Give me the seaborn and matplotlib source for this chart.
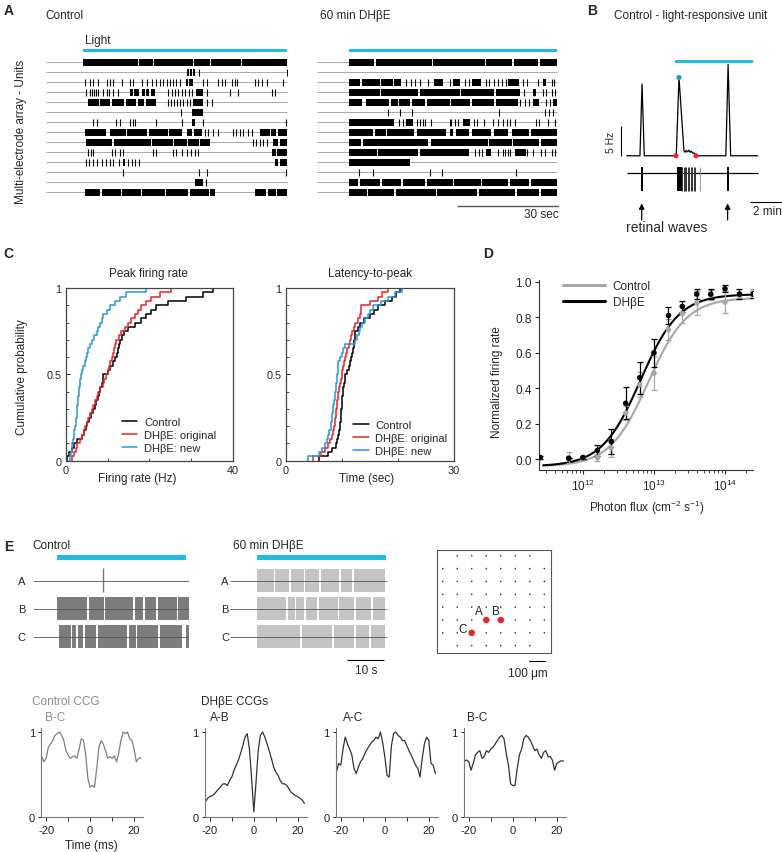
import numpy as np
import matplotlib
matplotlib.use('Agg')
import matplotlib.pyplot as plt
import seaborn as sns
from matplotlib.lines import Line2D
from matplotlib.ticker import FixedLocator, NullFormatter, LogLocator

sns.set_style('ticks')
plt.rcParams['font.family'] = ['Liberation Sans', 'DejaVu Sans']
plt.rcParams['mathtext.fontset'] = 'custom'
plt.rcParams['mathtext.rm'] = 'Liberation Sans'
plt.rcParams['mathtext.default'] = 'regular'
plt.rcParams['axes.linewidth'] = 0.8
plt.rcParams['axes.edgecolor'] = '#333333'

CYAN = '#1ebde3'
RED = '#e8252b'
BLUE = '#2b97d4'
GRAY = '#a6a6a6'
FS = 8.5
TFS = 7.8

# ---------------- DATA ----------------
# Panel A: rasters (seconds; light on 0-60 s). bursts = dense firing, spikes = single spikes
ctrl_bursts = [
    [(0, 16), (16.3, 20.5), (20.8, 32.3), (32.6, 37.5), (37.8, 46.6), (46.9, 60)],
    [(30.5, 31.2), (31.6, 32.2), (32.5, 32.9)],
    [(30.2, 31.0), (31.3, 32.4)],
    [(13.8, 14.8), (15.1, 16.5), (17.2, 18.2), (18.5, 19.5), (20.0, 21.1), (33.2, 35.2)],
    [(1.5, 4.5), (5.0, 8.0), (8.4, 12.0), (12.5, 15.5), (16.0, 18.0), (18.4, 21.6), (32.4, 35.2)],
    [(32.0, 35.2)],
    [(32.2, 32.9)],
    [(0.5, 6.6), (7.8, 12.5), (12.8, 18.8), (19.5, 25.0), (25.4, 29.0), (30.5, 32.0), (32.7, 34.9),
     (52.1, 55.0), (55.5, 57.0), (57.4, 60)],
    [(0.8, 8.5), (9.0, 20.0), (20.4, 26.5), (26.8, 30.5), (31.0, 34.0), (34.4, 37.4), (56.0, 57.5), (58.0, 60)],
    [(55.6, 57.0), (57.3, 60)],
    [(11.6, 12.3), (56.5, 57.5), (58, 60)],
    [],
    [(32.9, 35.4)],
    [(0.5, 5.0), (5.5, 11.0), (11.4, 17.0), (17.3, 24.0), (24.4, 31.0), (31.5, 37.0), (37.4, 38.8),
     (50.6, 54.0), (54.4, 57.0), (57.3, 60)],
]
ctrl_spikes = [
    [],
    [34.1, 60.0],
    [0.5, 2.0, 2.9, 4.4, 6.9, 7.9, 8.8, 11.3, 13.8, 14.7, 17.2, 18.7, 20.2, 21.6, 22.6, 23.6, 24.6, 25.6,
     26.5, 27.5, 28.5, 35.4, 36.4, 39.8, 40.8, 41.8, 43.8, 44.7, 45.4, 50.6, 51.6, 52.6, 54.1, 58.8],
    [0.8, 2.0, 2.6, 3.1, 3.7, 4.4, 5.9, 6.9, 7.7, 8.8, 10.3, 25.1, 26.1, 27.0, 28.0, 29.0, 30.0, 31.2,
     32.2, 36.6, 43.3, 45.7, 55.6, 56.5],
    [25.1, 25.9, 26.8, 27.6, 28.5, 29.5, 30.5, 31.5, 36.4, 37.9],
    [28.7],
    [2.9, 3.9, 9.8, 10.8, 13.8, 14.6, 15.2, 21.6, 29.0, 35.4, 59.8],
    [35.9, 36.9, 38.3, 39.8, 44.2, 45.2, 46.2, 47.2, 48.7, 49.7],
    [50.1, 51.1, 52.1, 53.1, 54.1],
    [1.5, 2.2, 2.9, 8.4, 9.3, 10.8, 11.8, 20.6, 21.6, 26.5, 27.5, 29.0, 30.5, 31.7, 32.9, 33.9],
    [0.8, 1.8, 2.9, 3.9, 5.4, 6.7, 7.9, 8.8, 10.6, 13.3, 14.3, 15.2, 16.5],
    [11.8, 34.1, 36.6, 59.8],
    [36.1],
    [],
]
dh_bursts = [
    [(0, 7.2), (7.6, 24.0), (24.3, 39.2), (39.6, 47.2), (47.6, 54.6), (55.2, 60)],
    [],
    [(0, 3.2), (3.8, 9.0), (9.3, 12.5), (13.0, 15.0), (24.6, 27.0), (30.0, 32.0), (35.5, 38.0),
     (46.0, 49.0), (56, 57)],
    [(0, 9.0), (9.3, 20.0), (20.4, 32.0), (32.3, 42.0), (42.3, 49.5), (53, 54)],
    [(0, 3.8), (4.8, 11.5), (12, 14), (14.5, 17.5), (18, 22), (22.5, 29), (29.5, 35), (35.5, 42),
     (42.3, 48.8), (53, 55), (59, 60)],
    [],
    [(0, 13.0), (16.3, 18.5), (33, 35)],
    [(0, 6.8), (7.5, 10.5), (11, 18.8), (19.5, 28), (29, 30), (31, 34.5), (35.5, 41), (42, 46),
     (47, 52), (52.5, 60)],
    [(0, 3.5), (4, 22.8), (23.5, 40), (40.5, 47), (47.4, 55), (55.4, 60)],
    [(0, 8), (8.4, 20), (20.5, 34.5), (39.5, 41), (48, 51)],
    [(0, 17.5)],
    [],
    [(0, 2.5), (3, 9), (9.5, 15), (15.4, 22), (22.5, 30), (30.4, 38), (38.5, 46), (46.5, 52), (52.5, 60)],
    [(0, 5), (5.5, 13), (13.4, 25), (25.5, 37), (37.4, 48), (48.5, 55), (55.5, 60)],
]
dh_spikes = [
    [],
    [],
    [16.5, 17.8, 19.0, 20.5, 22.8, 29.0, 33.5, 34.5, 39.5, 40.5, 42.0, 43.0, 44.3, 45.2, 50.2, 51.5,
     54.5, 58.5, 59.3],
    [50.5, 53.5, 56.0, 57.0, 58.5, 59.5],
    [49.5, 50.8, 52.0, 57.0, 58.0],
    [11.2, 14.7, 18.0, 43.3, 56.6, 57.8, 59.0],
    [14.5, 15.5, 19.5, 20.5, 21.2, 22.0, 23.5, 29.0, 29.5, 30.5, 31.5, 36, 37, 39.0, 41.5, 43.0, 44.5,
     45.5, 46.5, 48.0, 54.0, 55.0, 57.5, 59.5],
    [],
    [],
    [36.5, 37.5, 38.5, 43, 44.5, 45, 46, 46.5, 51.5, 53.0, 55.5, 56.6, 58.5, 59.5],
    [],
    [2.7, 6.9, 23.3, 26.9, 48.1],
    [],
    [],
]

# Panel B: PSTH of a light-responsive unit (min, Hz)
psth_t = [0, 0.83, 0.96, 1.10, 3.10, 3.27, 3.58, 3.65, 3.72, 3.80, 3.88, 3.96, 4.04, 4.12, 4.20,
          4.30, 4.40, 6.20, 6.34, 6.50, 8.19]
psth_rate = [0, 0, 12.2, 0, 0, 13.3, 0.85, 0.6, 0.9, 0.65, 0.95, 0.6, 0.8, 0.45, 0.5, 0.15, 0,
             0, 15.5, 0, 0]
b_bursts = [(0.88, 1.02), (3.12, 3.44), (6.25, 6.40)]
b_spikes = [3.48, 3.56, 3.65, 3.73, 3.81, 3.90, 4.00, 4.08, 4.19, 4.27]
b_late_spike = 4.58
b_onset_offset = [3.08, 4.33]
b_peak = (3.27, 13.3)
b_light = (3.02, 7.89)
b_waves = [0.94, 6.31]

# Panel C: cumulative distributions
fr_control = [0.3, 0.9, 1.5, 2.0, 2.6, 3.8, 4.3, 4.8, 5.2, 5.6, 6.0, 6.5, 6.9, 7.3, 7.7, 8.0, 8.3, 8.6,
              8.8, 9.0, 10.0, 10.6, 11.2, 11.7, 12.2, 12.5, 12.8, 13.1, 13.5, 13.9, 15.0, 16.5, 18.0,
              19.3, 20.5, 21.7, 24.5, 28.8, 32.8, 35.2]
fr_dh_orig = [1.5, 1.9, 2.4, 2.8, 3.3, 3.8, 4.3, 4.7, 5.1, 5.4, 5.8, 6.2, 6.6, 7.0, 7.4, 7.8, 8.3, 8.8,
              9.2, 9.6, 10.0, 10.3, 10.7, 11.0, 11.3, 11.6, 11.9, 12.1, 12.7, 13.3, 14.1, 14.9, 15.7,
              16.5, 17.3, 18.1, 19.3, 20.5, 22.5, 25.2]
fr_dh_new = [1.0, 1.2, 1.4, 1.6, 1.8, 2.0, 2.1, 2.3, 2.4, 2.5, 2.6, 2.7, 2.8, 2.9, 3.0, 3.1, 3.2, 3.3,
             3.5, 3.6, 3.9, 4.2, 4.5, 4.8, 5.1, 5.4, 5.8, 6.2, 6.8, 7.4, 7.8, 8.2, 8.6, 9.0, 9.8, 10.6,
             11.7, 12.9, 14.5, 19.3]
lat_control = [5.9, 7.6, 8.3, 8.9, 9.2, 9.4, 9.5, 9.6, 9.7, 9.8, 9.85, 9.9, 9.95, 10.0, 10.1, 10.2,
               10.3, 10.4, 10.5, 10.6, 11.0, 11.3, 11.5, 11.7, 11.9, 12.0, 12.1, 12.2, 12.3, 12.4,
               12.8, 13.2, 14.0, 15.0, 15.8, 16.5, 17.7, 18.9, 19.6, 20.4]
lat_dh_orig = [4.9, 6.3, 7.0, 7.5, 7.9, 8.2, 8.4, 8.6, 8.7, 8.8, 8.9, 9.0, 9.1, 9.2, 9.3, 9.4, 9.5,
               9.7, 9.8, 10.0, 10.1, 10.2, 10.4, 10.6, 10.8, 11.0, 11.2, 11.4, 11.6, 11.8, 12.1, 12.4,
               12.8, 13.2, 13.5, 13.5, 15.0, 16.5, 17.1, 18.3]
lat_dh_new = [3.9, 6.0, 6.4, 7.0, 7.3, 7.6, 7.8, 8.0, 8.1, 8.2, 8.3, 8.4, 8.5, 8.6, 8.7, 8.8, 8.9, 9.0,
              9.1, 9.2, 9.3, 9.4, 9.4, 9.7, 10.0, 10.3, 10.6, 12.4, 12.7, 13.0, 13.2, 13.6, 14.1, 14.6,
              15.1, 15.6, 17.0, 18.3, 19.5, 20.7]
c_labels = ['Control', 'DH\u03b2E: original', 'DH\u03b2E: new']

# Panel D: intensity-response
flux = [2.5e11, 6.3e11, 1e12, 1.6e12, 2.5e12, 4e12, 6.3e12, 1e13, 1.6e13, 2.5e13, 4e13, 6.3e13,
        1e14, 1.6e14, 2.5e14]
d_ctrl = [0.01, 0.01, 0.01, 0.01, 0.065, 0.26, 0.42, 0.485, 0.73, 0.82, 0.88, 0.925, 0.885, 0.92, 0.94]
d_ctrl_err = [0.01, 0.03, 0.01, 0.02, 0.05, 0.04, 0.07, 0.095, 0.06, 0.05, 0.07, 0.03, 0.06, 0.02, 0.02]
d_dh = [0.01, 0.005, 0.01, 0.05, 0.10, 0.315, 0.46, 0.60, 0.81, 0.86, 0.93, 0.93, 0.96, 0.93, 0.93]
d_dh_err = [0.01, 0.0, 0.01, 0.03, 0.07, 0.09, 0.09, 0.08, 0.05, 0.03, 0.03, 0.03, 0.02, 0.03, 0.02]
# Hill fits: bottom, top, log10 EC50, Hill slope
fit_ctrl = (-0.04, 0.91, 12.92, 1.6)
fit_dh = (-0.04, 0.93, 12.81, 1.6)

# Panel E: rasters (s), A/B/C units
e_ctrl_bursts = {
    'A': [],
    'B': [(0, 8.0), (8.5, 12.5), (12.9, 20.3), (20.8, 23.0), (23.5, 26.5), (27.0, 32.0), (32.4, 35.3)],
    'C': [(0.5, 3.7), (4.0, 5.0), (5.5, 6.8), (7.3, 10.5), (11.0, 18.7), (19.1, 21.0), (21.5, 27.0),
          (27.5, 33.3), (34.5, 35.3)],
}
e_ctrl_spikes = {'A': [12.3], 'B': [], 'C': []}
e_dh_bursts = {
    'A': [(0, 4.5), (4.8, 8.5), (9.0, 12.5), (12.8, 16.5), (17, 22), (22.4, 25.5), (25.9, 34.3)],
    'B': [(0, 7.8), (8.3, 10.0), (10.5, 12.5), (13, 16), (16.5, 21.5), (22, 26), (26.5, 30.5), (31, 34.3)],
    'C': [(0, 11.5), (11.9, 20.0), (20.5, 26.0), (26.5, 30.0), (30.5, 34.3)],
}
e_units = ['A', 'B', 'C']
unit_col = [3, 4, 2]
unit_row = [5, 5, 6]

# CCGs (lag in ms, normalized)
lag = np.arange(-22, 24)
ccg_ctrl_bc = [0.71, 0.65, 0.69, 0.82, 0.86, 0.90, 0.96, 0.98, 1.0, 0.96, 0.90, 0.78, 0.73, 0.69, 0.71,
               0.72, 0.69, 0.80, 0.92, 0.90, 0.73, 0.45, 0.35, 0.37, 0.35, 0.57, 0.82, 0.90, 0.86, 0.78,
               0.69, 0.71, 0.69, 0.72, 0.65, 0.75, 0.90, 1.0, 0.98, 1.0, 0.92, 0.90, 0.80, 0.65, 0.69, 0.70]
ccg_dh_ab = [0.18, 0.22, 0.24, 0.25, 0.27, 0.30, 0.33, 0.36, 0.39, 0.39, 0.37, 0.43, 0.47, 0.55, 0.61,
             0.67, 0.75, 0.84, 0.94, 0.98, 0.80, 0.45, 0.06, 0.41, 0.78, 0.96, 1.0, 0.94, 0.86, 0.78,
             0.69, 0.59, 0.53, 0.49, 0.43, 0.39, 0.39, 0.37, 0.33, 0.29, 0.27, 0.25, 0.24, 0.22, 0.20, 0.16]
ccg_dh_ac = [0.53, 0.63, 0.61, 0.80, 0.94, 0.86, 0.80, 0.73, 0.57, 0.51, 0.59, 0.65, 0.69, 0.75, 0.80,
             0.84, 0.88, 0.90, 0.94, 0.92, 1.0, 0.88, 0.71, 0.49, 0.47, 0.84, 0.98, 1.0, 0.96, 0.94,
             0.90, 0.90, 0.84, 0.78, 0.73, 0.67, 0.61, 0.57, 0.47, 0.69, 0.86, 0.94, 0.90, 0.63, 0.61, 0.51]
ccg_dh_bc = [0.66, 0.67, 0.65, 0.55, 0.63, 0.73, 0.76, 0.78, 0.69, 0.71, 0.78, 0.76, 0.80, 0.82, 0.86,
             0.90, 0.94, 0.96, 0.92, 0.75, 0.61, 0.39, 0.37, 0.37, 0.57, 0.73, 0.80, 0.92, 0.96, 0.94,
             0.90, 0.84, 0.78, 0.80, 0.73, 0.69, 0.76, 0.78, 0.71, 0.71, 0.67, 0.55, 0.63, 0.65, 0.66, 0.66]

# ---------------- FIGURE ----------------
W, H = 782, 853
fig = plt.figure(figsize=(W / 100, H / 100), dpi=100)


def add_ax(x0, y0, x1, y1):
    return fig.add_axes([x0 / W, 1 - y1 / H, (x1 - x0) / W, (y1 - y0) / H])


def ftext(x, y, s, **kw):
    kw.setdefault('fontsize', FS)
    kw.setdefault('va', 'center')
    fig.text(x / W, 1 - y / H, s, **kw)


def fline(xs, ys, **kw):
    fig.add_artist(Line2D([x / W for x in xs], [1 - y / H for y in ys], **kw))


# ---- Panel A ----
def draw_raster(ax, bursts, spikes, xlim):
    for i, (b, s) in enumerate(zip(bursts, spikes)):
        ax.hlines(i, xlim[0], 60, color='#9a9a9a', lw=0.6, zorder=1)
        if b:
            ax.broken_barh([(a, e - a) for a, e in b], (i - 0.33, 0.66), facecolor='black',
                           edgecolor='none', zorder=2)
        if s:
            ax.vlines(s, i - 0.33, i + 0.33, color='black', lw=0.8, zorder=2)
    ax.broken_barh([(0, 60)], (-1.16 - 0.15, 0.3), facecolor=CYAN, edgecolor='none')
    ax.set_xlim(xlim)
    ax.set_ylim(14.67, -2.0)
    ax.axis('off')


axA1 = add_ax(46, 43.3, 288, 210)
draw_raster(axA1, ctrl_bursts, ctrl_spikes, (-11.0, 60.4))
axA2 = add_ax(316.7, 43.3, 559.3, 210)
draw_raster(axA2, dh_bursts, dh_spikes, (-9.43, 60.75))
axA2.hlines(14.34, 31.07, 60.75, color='#555555', lw=1.0)
ftext(559, 214.5, '30 sec', ha='right')
ftext(9, 11, 'A', fontsize=10, fontweight='bold', ha='center')
ftext(45, 16, 'Control')
ftext(320, 16, '60 min DH\u03b2E')
ftext(85, 41, 'Light')
ftext(21, 132, 'Multi-electrode array - Units', rotation=90, ha='center')

# ---- Panel B ----
axB = add_ax(615, 55, 782, 235)
sns.lineplot(x=psth_t, y=psth_rate, ax=axB, color='black', lw=0.9, estimator=None, sort=False)
axB.hlines(-2.99, 0.04, 8.22, color='black', lw=0.9)
axB.broken_barh([(a, e - a) for a, e in b_bursts], (-6.05, 4.08), facecolor='black', edgecolor='none')
axB.vlines(b_spikes, -6.05, -1.97, color='#333333', lw=0.7)
axB.vlines([b_late_spike], -6.05, -1.97, color='#888888', lw=0.6)
sns.scatterplot(x=b_onset_offset, y=[0, 0], ax=axB, color=RED, s=14, edgecolor='none', zorder=5)
sns.scatterplot(x=[b_peak[0]], y=[b_peak[1]], ax=axB, color='#1a9cc8', s=14, edgecolor='none', zorder=5)
axB.broken_barh([(b_light[0], b_light[1] - b_light[0])], (16.1 - 0.25, 0.5), facecolor=CYAN,
                edgecolor='none')
axB.vlines(-0.36, 0, 5, color='black', lw=0.8)
axB.hlines(-7.93, 7.71, 9.71, color='black', lw=0.8)
for t in b_waves:
    axB.annotate('', xy=(t, -8.1), xytext=(t, -10.9),
                 arrowprops=dict(arrowstyle='-|>', color='black', lw=0.9, mutation_scale=8,
                                 shrinkA=0, shrinkB=0))
axB.set_xlim(-0.73, 9.71)
axB.set_ylim(-13.3, 17.3)
axB.axis('off')
ftext(592, 11, 'B', fontsize=10, fontweight='bold', ha='center')
ftext(614, 16, 'Control - light-responsive unit')
ftext(611, 142, '5 Hz', rotation=90, ha='center', fontsize=7.5)
ftext(767, 212, '2 min', ha='center')
ftext(667, 228, 'retinal waves', ha='center', fontsize=10)

# ---- Panel C ----
def cdf_panel(ax, data, xmax, bbox):
    for vals, col, lab in zip(data, ['black', RED, BLUE], c_labels):
        sns.ecdfplot(x=vals, ax=ax, color=col, lw=1.1, label=lab)
    ax.set_xlim(0, xmax)
    ax.set_ylim(0, 1)
    ax.set_xticks([0, xmax])
    ax.set_xticklabels(['0', str(xmax)])
    ax.xaxis.set_minor_locator(FixedLocator(list(range(10, xmax, 10))))
    ax.set_yticks([0, 0.5, 1])
    ax.set_yticklabels(['0', '0.5', '1'])
    ax.yaxis.set_minor_locator(FixedLocator([0.1, 0.2, 0.3, 0.4, 0.6, 0.7, 0.8, 0.9]))
    ax.tick_params(direction='in', length=3, width=0.7, labelsize=TFS, pad=3)
    ax.tick_params(which='minor', direction='in', length=2, width=0.6)
    ax.set_xlabel('')
    ax.set_ylabel('')
    for sp in ax.spines.values():
        sp.set_linewidth(0.9)
        sp.set_color('#444444')
    ax.legend(loc='lower left', bbox_to_anchor=bbox, frameon=False, fontsize=8, handlelength=1.4,
              handletextpad=0.6, labelspacing=0.25, borderpad=0, borderaxespad=0)


axC1 = add_ax(65.7, 289, 233, 461.7)
cdf_panel(axC1, [fr_control, fr_dh_orig, fr_dh_new], 40, (0.335, 0.045))
axC2 = add_ax(285.7, 289, 454, 461.7)
cdf_panel(axC2, [lat_control, lat_dh_orig, lat_dh_new], 30, (0.40, 0.03))
ftext(8, 254, 'C', fontsize=10, fontweight='bold', ha='center')
ftext(148, 274, 'Peak firing rate', ha='center')
ftext(370, 274, 'Latency-to-peak', ha='center')
ftext(22, 377, 'Cumulative probability', rotation=90, ha='center')
ftext(137, 479, 'Firing rate (Hz)', ha='center')
ftext(367, 479, 'Time (sec)', ha='center')

# ---- Panel D ----
axD = add_ax(539.3, 281, 752.7, 471)
xfit = np.logspace(11.44, 14.4, 200)
for (bot, top, ec, n), col in zip([fit_ctrl, fit_dh], [GRAY, 'black']):
    yfit = bot + (top - bot) / (1 + 10 ** ((ec - np.log10(xfit)) * n))
    sns.lineplot(x=xfit, y=yfit, ax=axD, color=col, lw=1.5, estimator=None)
axD.errorbar(flux, d_ctrl, yerr=d_ctrl_err, fmt='none', ecolor=GRAY, elinewidth=0.9, capsize=2.2,
             capthick=0.9)
sns.scatterplot(x=flux, y=d_ctrl, ax=axD, color=GRAY, s=16, edgecolor='none', zorder=4)
axD.errorbar(flux, d_dh, yerr=d_dh_err, fmt='none', ecolor='black', elinewidth=0.9, capsize=2.2,
             capthick=0.9)
sns.scatterplot(x=flux, y=d_dh, ax=axD, color='black', s=16, edgecolor='none', zorder=5)
axD.set_xscale('log')
axD.set_xlim(10 ** 11.385, 10 ** 14.39)
axD.set_ylim(-0.0603, 1.0096)
axD.set_xticks([1e12, 1e13, 1e14])
axD.set_xticklabels(['$10^{12}$', '$10^{13}$', '$10^{14}$'])
axD.xaxis.set_minor_locator(LogLocator(base=10, subs=np.arange(2, 10), numticks=20))
axD.xaxis.set_minor_formatter(NullFormatter())
axD.set_yticks([0, 0.2, 0.4, 0.6, 0.8, 1.0])
axD.set_yticklabels(['0.0', '0.2', '0.4', '0.6', '0.8', '1.0'])
axD.tick_params(direction='out', length=3, width=0.8, labelsize=8.5, pad=2.5)
axD.tick_params(which='minor', direction='out', length=2, width=0.6)
sns.despine(ax=axD)
axD.set_xlabel('')
axD.set_ylabel('')
axD.legend(handles=[Line2D([], [], color=GRAY, lw=2.2), Line2D([], [], color='black', lw=2.2)],
           labels=['Control', 'DH\u03b2E'], loc='upper left', bbox_to_anchor=(0.112, 1.0),
           frameon=False, fontsize=8.5, handlelength=3.5, handletextpad=0.7, labelspacing=0.35,
           borderpad=0, borderaxespad=0)
ftext(488, 254, 'D', fontsize=10, fontweight='bold', ha='center')
ftext(497, 382, 'Normalized firing rate', rotation=90, ha='center')
ftext(647, 508, 'Photon flux (cm$^{-2}$ s$^{-1}$)', ha='center')

# ---- Panel E rasters ----
def e_raster(ax, bursts, spikes, color, xlim):
    for i, u in enumerate(e_units):
        if bursts[u]:
            ax.broken_barh([(a, e - a) for a, e in bursts[u]], (i - 0.41, 0.82), facecolor=color,
                           edgecolor='none', zorder=2)
        if spikes.get(u):
            ax.vlines(spikes[u], i - 0.44, i + 0.39, color='#777777', lw=1.0, zorder=2)
        ax.hlines(i, xlim[0], xlim[1], color='#555555', lw=0.6, zorder=3)
    ax.broken_barh([(0, 34.5)], (-0.836 - 0.08, 0.16), facecolor=CYAN, edgecolor='none')
    ax.set_xlim(xlim)
    ax.set_ylim(3.082, -1.061)
    ax.axis('off')


axE1 = add_ax(33.3, 552, 189.3, 668)
e_raster(axE1, e_ctrl_bursts, e_ctrl_spikes, '#7d7d7d', (-6.43, 35.39))
axE2 = add_ax(230, 552, 386.7, 668)
e_raster(axE2, e_dh_bursts, {}, '#c4c4c4', (-7.32, 34.69))
axE2.hlines(2.83, 23.97, 33.97, color='black', lw=0.8)
ftext(366, 671, '10 s', ha='center')
for i, u in enumerate(e_units):
    ftext(21.7, 581.7 + 28 * i, u, ha='center', fontsize=8)
    ftext(225, 581.7 + 28 * i, u, ha='center', fontsize=8)
ftext(9, 547, 'E', fontsize=10, fontweight='bold', ha='center')
ftext(32, 546, 'Control')
ftext(233, 546, '60 min DH\u03b2E')

# ---- Panel E electrode grid ----
axG = add_ax(437, 551, 551, 654)
elec_c, elec_r = [], []
for c in range(8):
    for r in range(8):
        if (c in (0, 7)) and (r in (0, 7)):
            continue
        elec_c.append(c)
        elec_r.append(r)
sns.scatterplot(x=elec_c, y=elec_r, ax=axG, color='#222222', s=1.2, edgecolor='none', zorder=2)
sns.scatterplot(x=unit_col, y=unit_row, ax=axG, color=RED, s=22, edgecolor='none', zorder=3)
for u, c, r, (dx, dy) in zip(e_units, unit_col, unit_row, [(-7, -9), (-5, -9), (-9, -4)]):
    axG.annotate(u, (c, r), xytext=(dx * 0.72, -dy * 0.72), textcoords='offset points',
                 ha='center', va='center', fontsize=8.5)
axG.set_xlim(-0.393, 7.46)
axG.set_ylim(7.568, -0.443)
axG.set_xticks([])
axG.set_yticks([])
axG.set_xlabel('')
axG.set_ylabel('')
for sp in axG.spines.values():
    sp.set_color('#555555')
    sp.set_linewidth(0.8)
fline([529, 545], [661.7, 661.7], color='black', lw=0.8)
ftext(528, 674, '100 \u03bcm', ha='center')

# ---- CCGs ----
ccg_specs = [
    (41.3, ccg_ctrl_bc, '#7f7f7f'),
    (205, ccg_dh_ab, '#333333'),
    (336, ccg_dh_ac, '#333333'),
    (464, ccg_dh_bc, '#333333'),
]
for x0, vals, col in ccg_specs:
    ax = add_ax(x0, 729, x0 + 101.6, 818)
    sns.lineplot(x=lag, y=vals, ax=ax, color=col, lw=0.9, estimator=None)
    ax.set_xlim(-22.2, 24)
    ax.set_ylim(0, 1.047)
    ax.set_xticks([-20, 0, 20])
    ax.set_xticklabels(['-20', '0', '20'])
    ax.xaxis.set_minor_locator(FixedLocator([-10, 10]))
    ax.set_yticks([0, 1])
    ax.set_yticklabels(['0', '1'])
    ax.tick_params(direction='out', length=3, width=0.7, labelsize=8, pad=2.5, colors='#222222')
    ax.tick_params(which='minor', direction='out', length=3, width=0.7)
    ax.tick_params(axis='y', length=2)
    sns.despine(ax=ax)
    for sp in ('left', 'bottom'):
        ax.spines[sp].set_color('#777777')
        ax.spines[sp].set_linewidth(0.8)
    ax.set_xlabel('')
    ax.set_ylabel('')

ftext(32, 702, 'Control CCG', color='#8a8a8a')
ftext(45, 718, 'B-C', color='#8a8a8a')
ftext(201, 702, 'DH\u03b2E CCGs')
ftext(210, 718, 'A-B')
ftext(343, 718, 'A-C')
ftext(467, 718, 'B-C')
ftext(91, 846, 'Time (ms)', ha='center')

fig.savefig('out.png', dpi=100)
